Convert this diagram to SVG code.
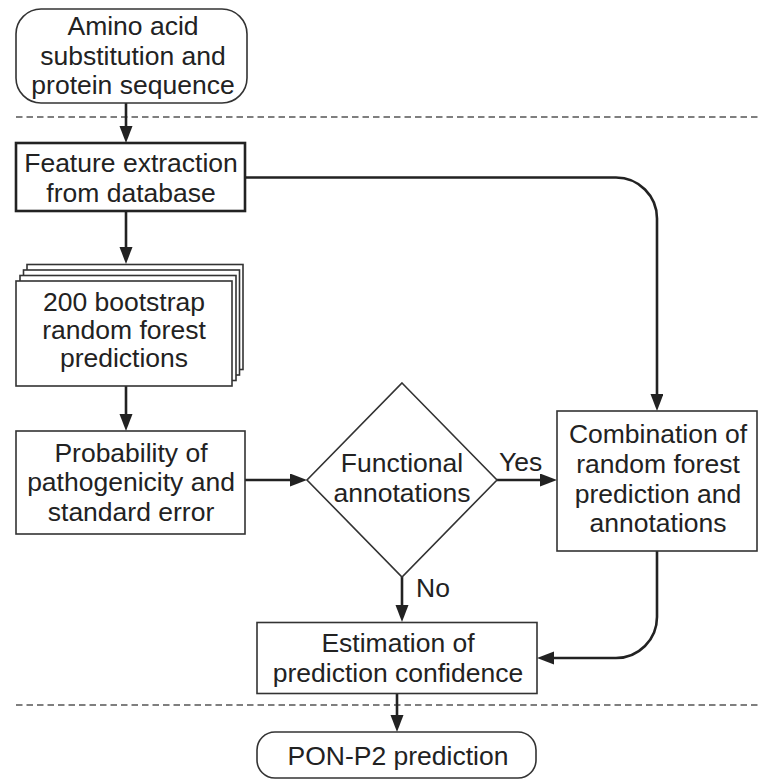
<svg xmlns="http://www.w3.org/2000/svg" width="759" height="780" viewBox="0 0 759 780">
  <style>
    .box { fill: #fff; stroke: #333; stroke-width: 1.6; }
    .t { font-family: "Liberation Sans", Arial, sans-serif; font-size: 26.5px; fill: #222; text-anchor: middle; }
    .lbl { font-family: "Liberation Sans", Arial, sans-serif; font-size: 26.5px; fill: #222; }
    .conn { fill: none; stroke: #222; stroke-width: 2.6; marker-end: url(#arrow); }
    .dash { stroke: #555; stroke-width: 1.6; stroke-dasharray: 6.5 4; }
  </style>
  <defs>
    <marker id="arrow" markerUnits="userSpaceOnUse" markerWidth="18" markerHeight="14" refX="9" refY="6.5" orient="auto">
      <path d="M0,0 L17,6.5 L0,13 Z" fill="#222"/>
    </marker>
  </defs>
  <rect width="759" height="780" fill="#fff"/>

  <g id="separators">
    <line class="dash" x1="16" y1="117" x2="759" y2="117"/>
    <line class="dash" x1="16" y1="705" x2="759" y2="705"/>
  </g>

  <g id="connectors">
    <line class="conn" x1="126" y1="103" x2="126" y2="135"/>
    <line class="conn" x1="126" y1="211" x2="126" y2="256"/>
    <line class="conn" x1="126" y1="386" x2="126" y2="423"/>
    <line class="conn" x1="245" y1="480" x2="299" y2="480"/>
    <line class="conn" x1="497" y1="480" x2="549" y2="480"/>
    <line class="conn" x1="402" y1="577" x2="402" y2="614"/>
    <path class="conn" d="M245,177.5 H616 A41,41 0 0 1 657,218.5 V403"/>
    <path class="conn" d="M657,551 V617 A41,41 0 0 1 616,658 H545"/>
    <line class="conn" x1="397" y1="693" x2="397" y2="724"/>
    <text class="lbl" x="499" y="471">Yes</text>
    <text class="lbl" x="416" y="597">No</text>
  </g>

  <g id="input">
    <rect class="box" x="16" y="9" width="231" height="94" rx="25" ry="25"/>
    <text class="t" x="133" y="35">Amino acid</text>
    <text class="t" x="133" y="65">substitution and</text>
    <text class="t" x="133" y="94">protein sequence</text>
  </g>

  <g id="feature">
    <rect class="box" x="16" y="143" width="229" height="68" style="stroke:#222;stroke-width:2.6"/>
    <text class="t" x="131" y="171.5">Feature extraction</text>
    <text class="t" x="131" y="201.5">from database</text>
  </g>

  <g id="bootstrap">
    <rect class="box" x="27" y="264.5" width="216" height="105"/>
    <rect class="box" x="23.5" y="270" width="216" height="105"/>
    <rect class="box" x="20" y="275.5" width="216" height="105"/>
    <rect class="box" x="16" y="281" width="216" height="105"/>
    <text class="t" x="124" y="310.5">200 bootstrap</text>
    <text class="t" x="124" y="339">random forest</text>
    <text class="t" x="124" y="367">predictions</text>
  </g>

  <g id="probability">
    <rect class="box" x="16" y="431" width="229" height="103"/>
    <text class="t" x="131" y="461.5">Probability of</text>
    <text class="t" x="131" y="490.5">pathogenicity and</text>
    <text class="t" x="131" y="520.5">standard error</text>
  </g>

  <g id="decision">
    <polygon class="box" points="402,383 497,480 402,577 307,480"/>
    <text class="t" x="402" y="472">Functional</text>
    <text class="t" x="402" y="502">annotations</text>
  </g>

  <g id="combination">
    <rect class="box" x="557" y="411" width="200" height="140"/>
    <text class="t" x="658" y="443">Combination of</text>
    <text class="t" x="658" y="473">random forest</text>
    <text class="t" x="658" y="503">prediction and</text>
    <text class="t" x="658" y="532">annotations</text>
  </g>

  <g id="estimation">
    <rect class="box" x="257" y="622.5" width="280" height="71"/>
    <text class="t" x="398" y="651.5">Estimation of</text>
    <text class="t" x="398" y="681.5">prediction confidence</text>
  </g>

  <g id="output">
    <rect class="box" x="257" y="732" width="279" height="46" rx="18" ry="18"/>
    <text class="t" x="398" y="765">PON-P2 prediction</text>
  </g>
</svg>
